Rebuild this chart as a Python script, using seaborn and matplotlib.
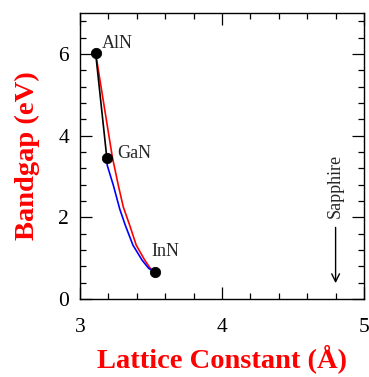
import matplotlib
matplotlib.use("Agg")
import matplotlib.pyplot as plt
from matplotlib.ticker import MultipleLocator
import seaborn as sns
import pandas as pd

# Data
materials = ["AlN", "GaN", "InN"]
lattice = [3.11, 3.189, 3.528]
gap = [6.02, 3.45, 0.66]

# AlN-GaN (black)
black_x = [3.11, 3.189]
black_y = [6.02, 3.45]
# GaN-InN (blue)
blue_x = [3.189, 3.192, 3.235, 3.28, 3.319, 3.373, 3.437, 3.484, 3.528]
blue_y = [3.45, 3.27, 2.78, 2.20, 1.805, 1.317, 0.951, 0.749, 0.66]
# AlN-InN (red)
red_x = [3.11, 3.228, 3.27, 3.305, 3.35, 3.396, 3.456, 3.495, 3.528]
red_y = [6.02, 3.47, 2.78, 2.25, 1.805, 1.317, 0.951, 0.749, 0.66]

sapphire_x = 4.8

sns.set_style("ticks")
plt.rcParams["font.family"] = ["Liberation Serif", "DejaVu Serif"]

fig = plt.figure(figsize=(3.69, 3.77), dpi=100)
ax = fig.add_axes([80/369, 1-299/377, 284/369, 286/377])

sns.lineplot(x=red_x, y=red_y, color="#ff0000", lw=1.2, ax=ax, estimator=None, sort=False)
sns.lineplot(x=blue_x, y=blue_y, color="#0000ff", lw=1.2, ax=ax, estimator=None, sort=False)
sns.lineplot(x=black_x, y=black_y, color="black", lw=1.2, ax=ax, estimator=None, sort=False)
pts = pd.DataFrame({"a": lattice, "E": gap, "m": materials})
sns.scatterplot(data=pts, x="a", y="E", color="black", s=55, edgecolor="black", zorder=5, ax=ax)

offsets = {"AlN": (4.6, 1, "bottom"), "GaN": (7.5, 3.6, "center"), "InN": (-2.4, 8.6, "bottom")}
for m, a, e in zip(materials, lattice, gap):
    dx, dy, va = offsets[m]
    ax.annotate(m, (a, e), xytext=(dx, dy), textcoords="offset points",
                fontsize=13, ha="left", va=va)

ax.text(sapphire_x, 2.77, "Sapphire", rotation=90, ha="center", va="center", fontsize=13)
ax.annotate("", xy=(sapphire_x, 0.32), xytext=(sapphire_x, 1.82),
            arrowprops=dict(arrowstyle="->", color="black", lw=1.0, mutation_scale=14))

ax.set_xlim(3, 5)
ax.set_ylim(0, 7)
ax.xaxis.set_major_locator(MultipleLocator(1))
ax.xaxis.set_minor_locator(MultipleLocator(0.2))
ax.yaxis.set_major_locator(MultipleLocator(2))
ax.yaxis.set_minor_locator(MultipleLocator(0.4))
ax.tick_params(which="both", direction="in", top=True, right=True, width=0.9, colors="black")
ax.tick_params(which="major", length=8.5, labelsize=15.5)
ax.tick_params(axis="x", which="major", pad=14)
ax.tick_params(axis="y", which="major", pad=8)
ax.tick_params(which="minor", length=4.5)
for s in ax.spines.values():
    s.set_visible(True)
    s.set_linewidth(1.0)
    s.set_color("black")

ax.set_xlabel("Lattice Constant (Å)", color="#ff0000", fontsize=20.5, fontweight="bold", labelpad=5)
ax.set_ylabel("Bandgap (eV)", color="#ff0000", fontsize=20.5, fontweight="bold", labelpad=13)

fig.savefig("out.png", dpi=100)
